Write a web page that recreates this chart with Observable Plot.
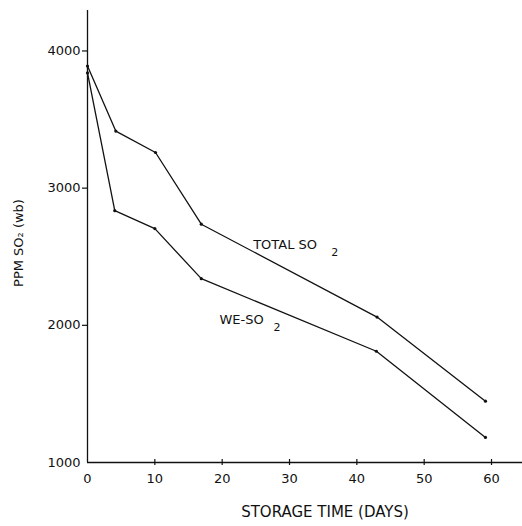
<!DOCTYPE html>
<html>
<head>
<meta charset="utf-8">
<script src="https://cdn.jsdelivr.net/npm/d3@7"></script>
<script src="https://cdn.jsdelivr.net/npm/@observablehq/plot@0.6"></script>
<style>
  html, body { margin: 0; padding: 0; background: #fff; }
  #chart { width: 522px; height: 526px; }
  svg { font-family: "DejaVu Sans", sans-serif; }
</style>
</head>
<body>
<div id="chart"></div>
<script>
// Data
const days = [0, 4.2, 10.1, 16.9, 43, 59.1];
const totalSO2 = [3890, 3416, 3260, 2737, 2060, 1447];
const weDays = [0, 4.05, 10, 16.9, 42.9, 59.1];
const weSO2 = [3840, 2836, 2705, 2340, 1811, 1183];
const xTicks = [0, 10, 20, 30, 40, 50, 60];
const yTicks = [1000, 2000, 3000, 4000];
const totalLabel = {text: "TOTAL SO", sub: "2", x: 24.6, y: 2560};
const weLabel = {text: "WE-SO", sub: "2", x: 19.6, y: 2010};
const xLabel = "STORAGE TIME (DAYS)";
const yLabel = "PPM SO₂ (wb)";

const total = days.map((d, i) => ({day: d, ppm: totalSO2[i]}));
const we = weDays.map((d, i) => ({day: d, ppm: weSO2[i]}));

const ink = "#111";
const chart = Plot.plot({
  width: 522,
  height: 526,
  marginLeft: 87,
  marginRight: 0,
  marginTop: 10,
  marginBottom: 64,
  x: {domain: [0, 64.6], axis: null},
  y: {domain: [1000, 4295], axis: null},
  style: {fontFamily: "DejaVu Sans, sans-serif", color: ink, background: "#fff"},
  marks: [
    Plot.ruleX([0], {y1: 1000, y2: 4295, stroke: ink, strokeWidth: 1.3}),
    Plot.ruleY([1000], {x1: 0, x2: 64.6, stroke: ink, strokeWidth: 1.6}),
    Plot.ruleX(xTicks.slice(1), {y1: 1000, y2: 1000, insetTop: -3, insetBottom: -3, stroke: ink, strokeWidth: 1.2}),
    Plot.ruleY(yTicks.slice(1), {x1: 0, x2: 0, insetLeft: -5, insetRight: -1, stroke: ink, strokeWidth: 1.2}),
    Plot.text(xTicks, {x: d => d, y: 1000, text: d => String(d), dy: 16, fontSize: 13, fill: ink}),
    Plot.text(yTicks, {x: 0, y: d => d, text: d => String(d), dx: -7, textAnchor: "end", fontSize: 13, fill: ink}),
    Plot.line(total, {x: "day", y: "ppm", stroke: ink, strokeWidth: 1.3}),
    Plot.line(we, {x: "day", y: "ppm", stroke: ink, strokeWidth: 1.3}),
    Plot.dot(total, {x: "day", y: "ppm", r: 1.6, fill: ink, stroke: null}),
    Plot.dot(we, {x: "day", y: "ppm", r: 1.6, fill: ink, stroke: null}),
    Plot.text([totalLabel, weLabel], {x: "x", y: "y", text: "text", textAnchor: "start", lineAnchor: "bottom", fontSize: 13, fill: ink}),
    Plot.text([totalLabel], {x: "x", y: "y", text: "sub", textAnchor: "start", lineAnchor: "bottom", dx: 78, dy: 7, fontSize: 11, fill: ink}),
    Plot.text([weLabel], {x: "x", y: "y", text: "sub", textAnchor: "start", lineAnchor: "bottom", dx: 54, dy: 7, fontSize: 11, fill: ink})
  ]
});

const svg = d3.select(chart);
svg.append("text")
  .attr("x", 325).attr("y", 517)
  .attr("text-anchor", "middle")
  .attr("font-size", 15)
  .attr("fill", ink)
  .text(xLabel);
svg.append("text")
  .attr("transform", "translate(23,243) rotate(-90)")
  .attr("text-anchor", "middle")
  .attr("font-size", 13)
  .attr("fill", ink)
  .text(yLabel);

document.getElementById("chart").appendChild(chart);
</script>
</body>
</html>
